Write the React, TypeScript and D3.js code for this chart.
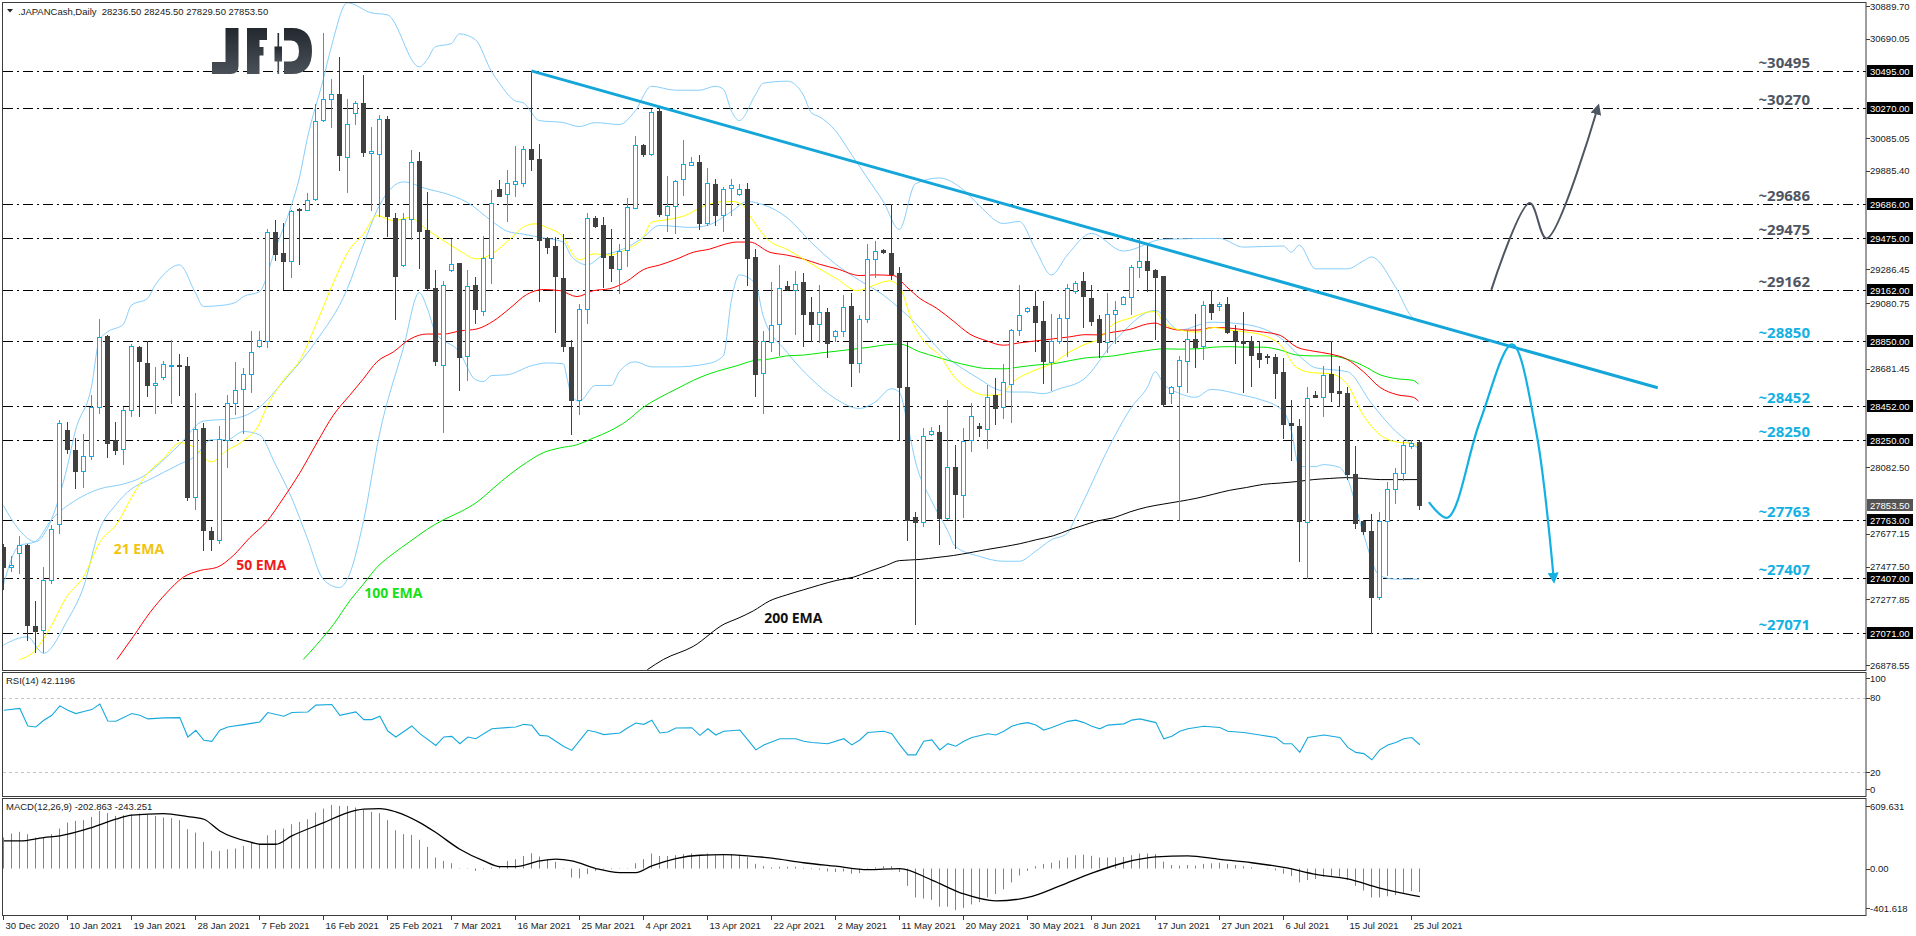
import * as d3 from 'd3'
import { useEffect, useRef } from 'react'

const WIDTH = 1916
const HEIGHT = 936
const AXIS_X = 1866

// daily OHLC, 30 Dec 2020 .. 26 Jul 2021
const opens = [
  27598, 27478, 27562, 27610, 27117, 27093, 27398, 27738, 28310, 28188, 28062, 28151, 28447, 28880, 28248, 28195,
  28431, 28816, 28717, 28580, 28633, 28698, 28705, 28700, 27901, 28322, 27694, 27641, 28248, 28476, 28560, 28650,
  28820, 28852, 29513, 29386, 29338, 29655, 29650, 29713, 30197, 30324, 30353, 29973, 30240, 30300, 29995, 29987,
  30199, 29602, 29314, 29595, 29946, 29525, 29174, 28705, 29282, 29326, 28760, 29189, 29032, 29357, 29776, 29747,
  29807, 29812, 30019, 29958, 29477, 29427, 29237, 28816, 28491, 29044, 29602, 29554, 29367, 29290, 29403, 29662,
  30043, 29987, 30252, 29619, 29675, 29838, 29922, 29939, 29571, 29807, 29619, 29783, 29747, 29778, 29362, 28657,
  28844, 28953, 29186, 29162, 29210, 29025, 28953, 29030, 28880, 28912, 29061, 28717, 28984, 29350, 29405, 29386,
  29265, 28573, 27781, 27750, 28286, 28296, 27774, 28086, 27913, 28250, 28334, 28315, 28520, 28447, 28587, 28917,
  29034, 29066, 28972, 28724, 28852, 28989, 29152, 29217, 29114, 28982, 28844, 29018, 29078, 29121, 29302, 29338,
  29282, 29249, 28536, 28575, 28731, 28864, 28820, 29078, 29066, 29078, 28912, 28852, 28852, 28777, 28758, 28753,
  28664, 28349, 28334, 27750, 28520, 28508, 28652, 28549, 28532, 28043, 27755, 27694, 27293, 27755, 27947, 28046,
  28214, 28236.5,
]
const highs = [
  27617, 27545, 27666, 27615, 27269, 27478, 27730, 28370, 28356, 28260, 28286, 28520, 28982, 28885, 28358, 28447,
  28832, 28820, 28852, 28693, 28731, 28856, 28772, 28755, 28536, 28351, 27721, 28332, 28524, 28724, 28688, 28909,
  28912, 29535, 29590, 29566, 29650, 29662, 29752, 30295, 30726, 30444, 30577, 30324, 30312, 30469, 30151, 30228,
  30223, 29631, 29631, 30016, 30004, 29759, 29285, 29213, 29470, 29326, 29285, 29241, 29489, 29771, 29831, 29891,
  30035, 30040, 30495, 30052, 29482, 29482, 29499, 28856, 29078, 29631, 29614, 29607, 29535, 29441, 29723, 30096,
  30047, 30264, 30269, 29855, 29831, 30076, 29968, 29982, 29903, 29836, 29790, 29836, 29807, 29814, 29410, 28909,
  29210, 29314, 29217, 29278, 29265, 29116, 29193, 29054, 28917, 29128, 29140, 29008, 29439, 29458, 29410, 29687,
  29302, 28844, 27810, 28322, 28327, 28339, 28491, 28219, 28322, 28476, 28351, 28585, 28623, 28712, 28921, 29193,
  29056, 29157, 29092, 29018, 29018, 29198, 29217, 29270, 29193, 29008, 29145, 29092, 29126, 29314, 29477, 29434,
  29290, 29249, 28575, 28760, 28909, 29013, 29092, 29162, 29085, 29116, 28946, 29025, 28880, 28852, 28772, 28772,
  28748, 28491, 28375, 28573, 28544, 28700, 28852, 28700, 28573, 28212, 27762, 27798, 27810, 27990, 28079, 28248,
  28248, 28245.5,
]
const lows = [
  27341, 27449, 27437, 27028, 26956, 26956, 27377, 27682, 28171, 27954, 27961, 28135, 28411, 28147, 28163, 28103,
  28394, 28394, 28515, 28411, 28621, 28472, 28524, 27882, 27827, 27581, 27581, 27622, 28086, 28404, 28291, 28539,
  28813, 28813, 29343, 29169, 29241, 29318, 29646, 29708, 30189, 30156, 29891, 29759, 30173, 29975, 29650, 29614,
  29489, 28984, 29309, 29470, 29297, 29169, 28705, 28296, 29278, 28551, 28611, 28960, 29008, 29205, 29732, 29583,
  29735, 29795, 29891, 29092, 29386, 28905, 28792, 28286, 28404, 28958, 29547, 29181, 29213, 29145, 29306, 29658,
  29975, 29982, 29614, 29518, 29506, 29739, 29920, 29530, 29554, 29554, 29518, 29619, 29742, 29189, 28515, 28411,
  28789, 28767, 29164, 28892, 28820, 28852, 28844, 28753, 28852, 28880, 28575, 28664, 28965, 29241, 29386, 29225,
  28248, 27641, 27129, 27726, 28279, 27617, 27769, 27593, 27779, 28183, 28272, 28202, 28346, 28382, 28356, 28885,
  29030, 28789, 28597, 28551, 28837, 28760, 29145, 28936, 28948, 28753, 28784, 28840, 29073, 29018, 29241, 29157,
  28864, 28452, 28476, 27762, 28539, 28695, 28743, 28984, 29042, 28897, 28717, 28539, 28575, 28693, 28719, 28503,
  28260, 28127, 27514, 27406, 28508, 28394, 28484, 28452, 28010, 27714, 27678, 27071, 27281, 27425, 27865, 28002,
  28200, 27829.5,
]
const closes = [
  27478, 27485, 27610, 27124, 27086, 27398, 27706, 28351, 28192, 28062, 28151, 28447, 28876, 28231, 28188, 28431,
  28820, 28731, 28585, 28597, 28712, 28705, 28698, 27901, 28315, 27699, 27646, 28255, 28476, 28553, 28650, 28784,
  28856, 29513, 29379, 29338, 29643, 29650, 29708, 30189, 30324, 30353, 29982, 30173, 30300, 29999, 30007, 30204,
  29610, 29246, 29595, 29939, 29518, 29176, 28729, 29193, 29318, 28753, 29186, 29044, 29355, 29691, 29735, 29812,
  29826, 30019, 29958, 29465, 29422, 29246, 28820, 28491, 29044, 29598, 29549, 29362, 29294, 29398, 29667, 30043,
  29987, 30245, 29622, 29675, 29826, 29927, 29939, 29571, 29812, 29619, 29776, 29800, 29776, 29357, 28652, 28852,
  28948, 29176, 29169, 29200, 29018, 28953, 29025, 28837, 28912, 29056, 28719, 28984, 29350, 29398, 29391, 29261,
  28573, 27762, 27750, 28272, 28303, 27774, 28086, 27918, 28243, 28394, 28322, 28512, 28443, 28604, 28917, 29008,
  29054, 28965, 28731, 28852, 28989, 29174, 29205, 29126, 28972, 28844, 29018, 29042, 29121, 29302, 29338, 29282,
  29241, 28467, 28568, 28736, 28864, 28813, 29068, 29030, 29078, 28905, 28852, 28837, 28767, 28741, 28753, 28657,
  28346, 28342, 27757, 28503, 28512, 28645, 28539, 28536, 28043, 27745, 27697, 27293, 27755, 27947, 28046, 28219,
  28231, 27853.5,
]

// moving averages, [bar, price]
const ema21 = [
  [2, 26912], [3.75, 26956], [5.8, 27100], [7.9, 27293], [10, 27413], [12.1, 27629], [14.2, 27738], [16.25, 27918],
  [17.9, 28038], [20, 28135], [22.1, 28231], [23.75, 28207], [26, 28115], [27.9, 28183], [30, 28243], [32, 28346],
  [32.9, 28447], [35, 28611], [37.1, 28736], [39.2, 28965], [41.25, 29205], [43.3, 29410], [45, 29500], [46.7, 29614],
  [48.75, 29583], [50.8, 29602], [52.9, 29530], [55, 29463], [57.1, 29398], [59.2, 29350], [61.25, 29386], [63.3, 29470],
  [65.4, 29554], [66.5, 29564], [67.9, 29542], [70, 29482], [71.25, 29374], [72.1, 29345], [73.75, 29381], [75.8, 29374],
  [77.9, 29410], [80, 29482], [81, 29573], [83.1, 29590], [85.2, 29614], [87.5, 29670], [90, 29699], [91.25, 29699],
  [92.5, 29675], [93.3, 29614], [95.8, 29458], [97.9, 29410], [100, 29350], [102, 29290], [104.2, 29229], [106.7, 29157],
  [108.3, 29181], [110.8, 29217], [112, 29181], [113.75, 28953], [115.4, 28832], [117.1, 28760], [118.75, 28640],
  [120.8, 28555], [122.9, 28520], [124.6, 28524], [126.25, 28604], [128.75, 28669], [131.25, 28717], [133.3, 28784],
  [135.5, 28836], [136.7, 28856], [138.75, 28953], [140.8, 28989], [142.9, 29025], [144, 29030], [145, 28965],
  [147.1, 28917], [149.2, 28905], [151.25, 28933], [153.3, 28917], [155.4, 28905], [157.5, 28885], [159.6, 28828],
  [161.7, 28688], [163.75, 28657], [165.8, 28652], [167.9, 28592], [170, 28399], [172.1, 28279], [174.2, 28236],
  [176.25, 28226], [176.9, 28207],
]
const ema50 = [
  [14.2, 26912], [16.25, 27052], [18.3, 27196], [20.4, 27317], [22.5, 27413], [24.6, 27454], [26.7, 27473], [28.75, 27545],
  [30.8, 27653], [32.9, 27750], [35, 27894], [37.1, 28051], [39.2, 28231], [41.25, 28399], [43.3, 28520], [45, 28620],
  [46.7, 28724], [48.75, 28784], [50.8, 28861], [52.9, 28893], [55, 28893], [57.1, 28912], [59.2, 28924], [61.25, 28972],
  [63.3, 29049], [65.4, 29133], [67.5, 29164], [69.6, 29157], [71.7, 29121], [73.75, 29157], [75.8, 29169], [77.9, 29213],
  [80, 29285], [82.1, 29314], [84.2, 29350], [86.25, 29391], [88.3, 29410], [90.2, 29440], [91.7, 29453], [93.3, 29453],
  [95.8, 29391], [97.9, 29374], [100, 29350], [102, 29318], [104.2, 29290], [107.1, 29249], [108.75, 29253], [111.25, 29249],
  [112.9, 29181], [114.6, 29109], [116.7, 29049], [118.75, 28972], [120.8, 28893], [122.9, 28852], [125, 28825],
  [127.1, 28840], [129.2, 28852], [131.25, 28864], [133.3, 28876], [135.2, 28889], [136.7, 28888], [138.75, 28905],
  [140.8, 28921], [142.9, 28953], [144, 28960], [145, 28941], [147.1, 28917], [149.2, 28917], [151.25, 28933],
  [153.3, 28929], [155.4, 28917], [157.5, 28905], [159.6, 28885], [161.7, 28813], [163.75, 28789], [165.8, 28772],
  [167.9, 28741], [170, 28664], [172.1, 28568], [174.2, 28524], [176.25, 28508], [176.9, 28484],
]
const ema100 = [
  [37.5, 26912], [39.2, 27004], [41.25, 27124], [43.3, 27269], [45, 27370], [46.7, 27473], [48.75, 27557], [50.8, 27629],
  [52.9, 27702], [55, 27762], [57.1, 27810], [59.2, 27870], [61.25, 27954], [63.3, 28038], [65.4, 28111], [67.5, 28171],
  [69.6, 28200], [71.7, 28219], [73.75, 28260], [75.8, 28303], [77.9, 28363], [80, 28447], [82.1, 28508], [84.2, 28560],
  [86.25, 28611], [88.3, 28652], [90.2, 28680], [91.7, 28700], [93.75, 28731], [95.8, 28741], [97.9, 28760], [100, 28765],
  [102, 28777], [104.2, 28789], [106.25, 28801], [108.3, 28813], [110.4, 28828], [112, 28832], [114.6, 28784],
  [116.7, 28753], [118.75, 28724], [120.8, 28700], [122.9, 28683], [125, 28681], [127.1, 28693], [129.2, 28705],
  [131.25, 28712], [133.3, 28731], [135.2, 28747], [138.75, 28760], [140.8, 28777], [142.9, 28792], [145, 28803],
  [147.1, 28801], [149.2, 28803], [151.25, 28813], [153.3, 28816], [155.4, 28813], [157.5, 28813], [159.6, 28796],
  [161.7, 28765], [163.75, 28760], [165.8, 28760], [167.9, 28741], [170, 28700], [172.1, 28645], [174.2, 28621],
  [176.25, 28611], [176.9, 28587],
]
const ema200 = [
  [80.5, 26850], [82.5, 26912], [86.25, 26992], [90.2, 27130], [91.7, 27160], [93.75, 27208], [95.8, 27269], [97.9, 27305],
  [100, 27336], [102, 27365], [104.2, 27394], [106.25, 27413], [108.3, 27449], [110.4, 27485], [112, 27514], [114.6, 27521],
  [116.7, 27533], [118.75, 27545], [120.8, 27562], [122.9, 27581], [125, 27598], [127.1, 27617], [129.2, 27642],
  [131.25, 27665], [133.3, 27702], [135.2, 27732], [136.7, 27755], [138.75, 27774], [140.8, 27810], [142.9, 27839],
  [145, 27858], [147.1, 27875], [149.2, 27894], [151.25, 27918], [153.3, 27942], [155.4, 27959], [157.5, 27978],
  [159.6, 27986], [161.7, 27995], [163.75, 28007], [165.8, 28014], [167.9, 28019], [170, 28014], [172.1, 28007],
  [174.2, 28007], [176.9, 28007],
]

// Bollinger bands (20, 2), [bar, price]
const bbUpper = [
  [0, 27850], [2, 27700], [4, 27629], [6, 27762], [8, 28087], [9, 28303], [11, 28568], [12, 28856], [13, 28905],
  [15, 28953], [16, 29068], [18, 29109], [19, 29193], [20, 29253], [22, 29314], [24, 29145], [25, 29061], [27, 29066],
  [29, 29085], [30, 29121], [32, 29150], [34, 29410], [36, 29675], [37, 29843], [38, 30084], [40, 30445], [41, 30641],
  [43, 30909], [46, 30848], [48, 30836], [52, 30519], [53, 30565], [54, 30642], [56, 30661], [57, 30720], [59, 30685],
  [61, 30493], [62, 30420], [64, 30312], [65, 30300], [67, 30192], [70, 30180], [72, 30156], [74, 30180], [77, 30168],
  [79, 30252], [81, 30401], [84, 30377], [87, 30377], [89, 30401], [90, 30384], [91, 30252], [92, 30192], [94, 30348],
  [95, 30420], [98, 30432], [100, 30348], [101, 30240], [102, 30216], [104, 30132], [106, 29987], [108, 29843],
  [110, 29699], [112, 29530], [114, 29807], [117, 29843], [120, 29771], [122, 29675], [125, 29566], [127, 29578],
  [129, 29410], [131, 29253], [133, 29374], [136, 29506], [140, 29398], [145, 29470], [152, 29475], [155, 29422],
  [160, 29429], [161, 29391], [162, 29434], [164, 29290], [168, 29290], [170, 29338], [171, 29362], [174, 29181],
  [176, 29001], [177, 28965],
]
const bbMiddle = [
  [0, 27365], [2, 27605], [4, 27629], [6, 27762], [9, 27880], [12, 27950], [15, 27980], [17, 28014], [22, 28219],
  [25, 28363], [29, 28380], [32, 28447], [35, 28604], [39, 28844], [43, 29169], [45, 29434], [47, 29675], [50, 29819],
  [53, 29776], [55, 29752], [58, 29694], [61, 29583], [63, 29518], [65, 29501], [67, 29482], [70, 29453], [71, 29367],
  [73, 29314], [75, 29374], [76, 29386], [78, 29422], [80, 29482], [82, 29554], [86, 29542], [88, 29554], [91, 29638],
  [93, 29700], [95, 29680], [98, 29600], [101, 29450], [104, 29320], [107, 29220], [110, 29130], [112, 29050],
  [114, 28960], [116, 28850], [118, 28750], [120, 28680], [122, 28620], [124, 28560], [126, 28540], [128, 28540],
  [130, 28530], [132, 28560], [135, 28616], [139, 28856], [144, 29037], [147, 28917], [151, 28965], [155, 28953],
  [160, 28856], [162, 28760], [164, 28688], [168, 28664], [171, 28472], [174, 28303], [177, 28195],
]
const bbLower = [
  [0, 27000], [3, 27050], [5, 26950], [8, 27150], [10, 27350], [12, 27700], [14, 27850], [16, 27950], [18, 28000],
  [20, 28050], [22, 28100], [24, 28150], [26, 28250], [28, 28250], [30, 28300], [32, 28280], [34, 28100], [36, 27900],
  [38, 27650], [40, 27400], [42, 27350], [43, 27400], [45, 27750], [47, 28279], [50, 28808], [52, 29145], [53, 29049],
  [54, 28905], [57, 28784], [59, 28616], [60, 28604], [61, 28640], [63, 28645], [66, 28700], [68, 28717], [70, 28712],
  [70.5, 28616], [71, 28520], [72, 28484], [74, 28580], [76, 28580], [77, 28664], [79, 28724], [81, 28693], [84, 28693],
  [88, 28712], [90, 28760], [91, 29097], [92, 29253], [94, 29200], [95, 29000], [98, 28780], [101, 28620], [104, 28500],
  [107, 28440], [109, 28480], [111, 28560], [112, 28540], [113, 28350], [114, 28120], [116, 27880], [118, 27700],
  [119, 27600], [122, 27540], [125, 27510], [127, 27510], [129, 27570], [131, 27640], [133, 27680], [134, 27774],
  [139, 28279], [141, 28447], [143, 28568], [144, 28664], [145, 28592], [147, 28532], [149, 28508], [151, 28556],
  [155, 28520], [157, 28496], [160, 28424], [161, 28303], [162, 28086], [164, 28086], [165, 28098], [167, 28082],
  [168, 28014], [170, 27678], [172, 27425], [174, 27401], [177, 27401],
]

// RSI(14), [bar, value]
const rsi = [
  [0, 70], [2, 71.4], [3, 57.3], [4, 56.5], [5, 61.9], [6, 65.9], [7, 73.5], [8, 70], [9, 67.3], [10, 69], [11, 70.5],
  [12, 74.9], [13, 61.3], [14, 61.1], [16, 67.3], [17, 66], [18, 63], [20, 63.8], [22, 64], [23, 48.4], [24, 53.8],
  [25, 45.7], [26, 44.9], [27, 53.8], [28, 56.5], [30, 58.4], [32, 60.5], [33, 68.1], [35, 65.1], [36, 68.1], [38, 68.6],
  [39, 74.1], [41, 74.6], [42, 65.9], [44, 68.6], [45, 62.4], [46, 62.4], [47, 65.1], [48, 53.2], [49, 48.4], [51, 57.3],
  [52, 51.1], [54, 41.6], [55, 48.4], [56, 48.9], [57, 43], [58, 48.4], [59, 47], [61, 55.1], [64, 56.5], [65, 58.6],
  [66, 57.8], [67, 49.7], [68, 49.2], [70, 40.8], [71, 37.6], [73, 53.8], [74, 52.4], [75, 50.3], [77, 51.6], [78, 55.9],
  [79, 59.7], [80, 58.6], [81, 61.9], [82, 51.6], [83, 52.4], [84, 55.7], [86, 55.9], [87, 49.7], [88, 55], [89, 50],
  [90, 53], [92, 54], [93, 46], [94, 38], [95, 42], [97, 47], [99, 47], [100, 45], [101, 44], [103, 43], [105, 47],
  [106, 42], [107, 46], [108, 52], [110, 53], [111, 51], [112, 42], [113, 34], [114, 34], [115, 45], [116, 46], [117, 38],
  [118, 43], [119, 41], [120, 45], [121, 48], [123, 51], [124, 50], [125, 53], [126, 57], [127, 59], [128, 60], [129, 58],
  [130, 54], [131, 56], [133, 61], [134, 62], [135, 60], [136, 57], [137, 55], [138, 58], [140, 59], [141, 62], [142, 63],
  [144, 60], [145, 47], [146, 49], [147, 53], [148, 55], [150, 57], [152, 56], [153, 53], [155, 52], [157, 50], [159, 48],
  [160, 43], [161, 43], [162, 36], [163, 48], [165, 50], [167, 48], [168, 40], [169, 36], [170, 35], [171, 30], [172, 38],
  [173, 42], [174, 44], [175, 47], [176, 48], [177, 42.1196],
]

// MACD(12,26,9): main value per bar, signal line as [bar, value]
const macdMain = [
  268, 302, 317, 297, 268, 268, 297, 346, 397, 412, 418, 446, 498, 478, 455, 461, 469, 475, 469, 455, 441, 435, 418, 340,
  311, 230, 153, 153, 167, 173, 196, 225, 210, 288, 334, 346, 383, 403, 426, 484, 518, 550, 541, 541, 527, 507, 490, 478,
  418, 331, 297, 291, 248, 187, 95, 66, 46, 3, 3, -20, -6, 9, 23, 66, 81, 109, 132, 104, 81, 58, 3, -78, -84, -49, -20,
  -6, -6, 3, 3, 46, 81, 130, 109, 109, 115, 124, 130, 110, 130, 115, 120, 125, 120, 100, 40, 20, 10, 15, 15, 15, 5, -5,
  -10, -25, -30, -25, -45, -40, -10, 10, 20, 20, -30, -150, -250, -260, -270, -330, -330, -360, -340, -310, -290, -250,
  -220, -180, -120, -60, -20, 20, 40, 50, 70, 95, 115, 120, 110, 95, 95, 95, 100, 115, 130, 130, 125, 60, 30, 25, 30, 25,
  40, 45, 50, 40, 30, 20, 10, 0, -5, -15, -45, -65, -120, -100, -90, -70, -70, -70, -100, -150, -190, -250, -250, -240,
  -230, -210, -195, -202.863,
]
const macdSignal = [
  [0, 239], [2, 239], [5, 268], [7, 282], [11, 354], [14, 426], [16, 461], [20, 475], [23, 449], [25, 426], [27, 325],
  [31, 225], [32, 210], [34, 210], [36, 282], [40, 397], [43, 484], [45, 513], [47, 518], [49, 490], [52, 397], [54, 311],
  [57, 167], [60, 66], [62, 17], [64, 17], [67, 66], [69, 81], [71, 66], [74, 0], [77, -35], [79, -35], [81, 23], [84, 86],
  [87, 115], [90, 120], [93, 110], [96, 90], [100, 50], [104, 20], [108, -10], [112, 0], [116, -100], [120, -220],
  [124, -280], [128, -250], [132, -150], [136, -40], [140, 50], [144, 100], [148, 110], [152, 80], [156, 50], [160, 10],
  [164, -50], [168, -90], [172, -170], [176, -230], [177, -243.251],
]

const dateLabels = [
  '30 Dec 2020', '10 Jan 2021', '19 Jan 2021', '28 Jan 2021', '7 Feb 2021', '16 Feb 2021', '25 Feb 2021', '7 Mar 2021',
  '16 Mar 2021', '25 Mar 2021', '4 Apr 2021', '13 Apr 2021', '22 Apr 2021', '2 May 2021', '11 May 2021', '20 May 2021',
  '30 May 2021', '8 Jun 2021', '17 Jun 2021', '27 Jun 2021', '6 Jul 2021', '15 Jul 2021', '25 Jul 2021',
]
const priceTicks = [
  30889.7, 30690.05, 30490.4, 30290.75, 30085.05, 29885.4, 29685.75, 29486.1, 29286.45, 29080.75, 28881.1, 28681.45,
  28481.8, 28282.15, 28082.5, 27882.85, 27677.15, 27477.5, 27277.85, 27078.2, 26878.55,
]
const levels = [30495, 30270, 29686, 29475, 29162, 28850, 28452, 28250, 27763, 27407, 27071]
const rsiTicks = [100, 80, 20, 0]
const macdTicks = [609.631, 0, -401.618]

// resistance line and the two scenario paths, [bar, price]
const trendLine = [[66, 30495], [206.8, 28566]]
const bullPath = [[186, 29162], [190.8, 29690], [192.9, 29475], [199.3, 30270]]
const bearPath = [[178.2, 27870], [180.5, 27775], [184.5, 28350], [188.6, 28830], [191.6, 28300], [193.8, 27400]]

const emaTags = [
  { text: '21 EMA', bar: 13.8, price: 27552, color: '#f2c40f' },
  { text: '50 EMA', bar: 29.1, price: 27455, color: '#ee1c1c' },
  { text: '100 EMA', bar: 45.1, price: 27284, color: '#17e017' },
  { text: '200 EMA', bar: 95.1, price: 27132, color: '#111111' },
]

const COL = {
  bull: '#17a9dd',
  bear: '#404040',
  band: '#87cefa',
  ema21: '#ffff00',
  ema50: '#ff0000',
  ema100: '#00e600',
  ema200: '#000000',
  trend: '#14a6d8',
  gray: '#4f5663',
  cyan: '#13b1e3',
  text: '#1a1a1a',
  frame: '#3c3c3c',
}

const FONT = '"Liberation Sans", Arial, sans-serif'
const BOLD = '"Open Sans", "Liberation Sans", sans-serif'

export default function App() {
  const ref = useRef<SVGSVGElement | null>(null)

  useEffect(() => {
    const svgEl = ref.current
    if (!svgEl) return
    const svg = d3.select(svgEl)
    svg.selectAll('*').remove()

    const x = d3.scaleLinear().domain([0, 100]).range([3.33, 803.33])
    const y = d3.scaleLinear().domain([26878.55, 30889.7]).range([665, 6])
    const yRsi = d3.scaleLinear().domain([0, 100]).range([797, 673])
    const yMacd = d3.scaleLinear().domain([-401.618, 609.631]).range([915, 798])

    const panels = [
      { id: 'main', top: 2, bottom: 670 },
      { id: 'rsi', top: 672, bottom: 796 },
      { id: 'macd', top: 798, bottom: 915 },
    ]

    const defs = svg.append('defs')
    panels.forEach((p) => {
      defs
        .append('clipPath')
        .attr('id', `clip-${p.id}`)
        .append('rect')
        .attr('x', 3)
        .attr('y', p.top + 1)
        .attr('width', AXIS_X - 3)
        .attr('height', p.bottom - p.top - 1)
    })
    const grad = defs.append('linearGradient').attr('id', 'logoGrad').attr('x1', 0).attr('y1', 0).attr('x2', 0).attr('y2', 1)
    grad.append('stop').attr('offset', '0%').attr('stop-color', '#23282f')
    grad.append('stop').attr('offset', '100%').attr('stop-color', '#4b5159')
    const addHead = (id: string, color: string) =>
      defs
        .append('marker')
        .attr('id', id)
        .attr('viewBox', '0 0 10 10')
        .attr('refX', 6)
        .attr('refY', 5)
        .attr('markerWidth', 11)
        .attr('markerHeight', 11)
        .attr('markerUnits', 'userSpaceOnUse')
        .attr('orient', 'auto')
        .append('path')
        .attr('d', 'M0,0 L10,5 L0,10 Z')
        .attr('fill', color)
    addHead('headGray', COL.gray)
    addHead('headCyan', COL.cyan)

    svg.append('rect').attr('width', WIDTH).attr('height', HEIGHT).attr('fill', '#fff')

    const main = svg.append('g').attr('clip-path', 'url(#clip-main)')

    // horizontal support / resistance levels
    levels.forEach((lv) => {
      const yy = Math.round(y(lv)) + 0.5
      main
        .append('line')
        .attr('x1', 3)
        .attr('x2', AXIS_X)
        .attr('y1', yy)
        .attr('y2', yy)
        .attr('stroke', '#000')
        .attr('stroke-width', 1)
        .attr('stroke-dasharray', '10,4,2,4')
    })

    const priceLine = d3
      .line<number[]>()
      .x((d) => x(d[0]))
      .y((d) => y(d[1]))
      .curve(d3.curveMonotoneX)

    const drawSeries = (data: number[][], color: string, width = 1) =>
      main
        .append('path')
        .attr('d', priceLine(data))
        .attr('fill', 'none')
        .attr('stroke', color)
        .attr('stroke-width', width)

    drawSeries(bbUpper, COL.band)
    drawSeries(bbMiddle, COL.band)
    drawSeries(bbLower, COL.band)
    drawSeries(ema200, COL.ema200)
    drawSeries(ema100, COL.ema100)
    drawSeries(ema50, COL.ema50)
    drawSeries(ema21, COL.ema21)

    // candles
    const gCandles = main.append('g')
    opens.forEach((o, i) => {
      const c = closes[i]
      const cx = Math.round(x(i))
      const up = c >= o
      const col = up ? COL.bull : COL.bear
      gCandles
        .append('line')
        .attr('x1', cx + 0.5)
        .attr('x2', cx + 0.5)
        .attr('y1', Math.round(y(highs[i])))
        .attr('y2', Math.round(y(lows[i])) + 1)
        .attr('stroke', col)
      const top = Math.round(y(Math.max(o, c)))
      const bot = Math.round(y(Math.min(o, c)))
      if (bot - top < 1) {
        gCandles
          .append('line')
          .attr('x1', cx - 2)
          .attr('x2', cx + 3)
          .attr('y1', top + 0.5)
          .attr('y2', top + 0.5)
          .attr('stroke', col)
      } else if (up) {
        gCandles
          .append('rect')
          .attr('x', cx - 1.5)
          .attr('y', top + 0.5)
          .attr('width', 4)
          .attr('height', bot - top)
          .attr('fill', '#fff')
          .attr('stroke', col)
      } else {
        gCandles
          .append('rect')
          .attr('x', cx - 2)
          .attr('y', top)
          .attr('width', 5)
          .attr('height', bot - top + 1)
          .attr('fill', col)
      }
    })

    // descending resistance
    main
      .append('line')
      .attr('x1', x(trendLine[0][0]))
      .attr('y1', y(trendLine[0][1]))
      .attr('x2', x(trendLine[1][0]))
      .attr('y2', y(trendLine[1][1]))
      .attr('stroke', COL.trend)
      .attr('stroke-width', 3)

    const scenario = d3
      .line<number[]>()
      .x((d) => x(d[0]))
      .y((d) => y(d[1]))
      .curve(d3.curveCatmullRom.alpha(0.5))
    main
      .append('path')
      .attr('d', scenario(bullPath))
      .attr('fill', 'none')
      .attr('stroke', COL.gray)
      .attr('stroke-width', 2)
      .attr('marker-end', 'url(#headGray)')
    main
      .append('path')
      .attr('d', scenario(bearPath))
      .attr('fill', 'none')
      .attr('stroke', COL.cyan)
      .attr('stroke-width', 2.2)
      .attr('marker-end', 'url(#headCyan)')

    // EMA captions
    emaTags.forEach((t) => {
      main
        .append('text')
        .attr('x', x(t.bar))
        .attr('y', y(t.price))
        .attr('fill', t.color)
        .attr('font-family', BOLD)
        .attr('font-weight', 700)
        .attr('font-size', 14)
        .text(t.text)
    })

    // level captions
    levels.forEach((lv, i) => {
      main
        .append('text')
        .attr('x', 1810)
        .attr('y', Math.round(y(lv)) - 3)
        .attr('text-anchor', 'end')
        .attr('fill', i < 5 ? COL.gray : COL.cyan)
        .attr('font-family', BOLD)
        .attr('font-weight', 700)
        .attr('font-size', 15)
        .text(`~${lv}`)
    })

    // JFD logo
    const logo = svg.append('g').attr('fill', 'url(#logoGrad)')
    logo.append('path').attr('d', 'M225.5 28 H238.5 V66 Q238.5 74 230.5 74 H212 V62 H225.5 Z')
    logo.append('path').attr('d', 'M247 28 H267 V40 H259.5 V47 H263.5 V55.5 H259.5 V74 H247 Z')
    logo.append('rect').attr('x', 277.5).attr('y', 33).attr('width', 1.6).attr('height', 41)
    logo.append('rect').attr('x', 274.5).attr('y', 46.5).attr('width', 7.5).attr('height', 15)
    logo
      .append('path')
      .attr('d', 'M284 28 H292 Q312 28 312 51 Q312 74 292 74 H284 V61.5 H291 Q299 61.5 299 51 Q299 40.5 291 40.5 H284 Z')

    // header
    svg.append('path').attr('d', 'M7 9 H13 L10 12.5 Z').attr('fill', '#222')
    svg
      .append('text')
      .attr('x', 18)
      .attr('y', 14.5)
      .attr('font-family', FONT)
      .attr('font-size', 9.5)
      .attr('fill', COL.text)
      .style('white-space', 'pre')
      .text('.JAPANCash,Daily  28236.50 28245.50 27829.50 27853.50')

    // RSI panel
    const gRsi = svg.append('g').attr('clip-path', 'url(#clip-rsi)')
    ;[80, 20].forEach((v) => {
      gRsi
        .append('line')
        .attr('x1', 3)
        .attr('x2', AXIS_X)
        .attr('y1', Math.round(yRsi(v)) + 0.5)
        .attr('y2', Math.round(yRsi(v)) + 0.5)
        .attr('stroke', '#c4c4c4')
        .attr('stroke-dasharray', '3,3')
    })
    gRsi
      .append('path')
      .attr(
        'd',
        d3
          .line<number[]>()
          .x((d) => x(d[0]) + 0.5)
          .y((d) => yRsi(d[1]))(rsi),
      )
      .attr('fill', 'none')
      .attr('stroke', COL.bull)
      .attr('stroke-width', 1.1)
    svg
      .append('text')
      .attr('x', 6)
      .attr('y', 684)
      .attr('font-family', FONT)
      .attr('font-size', 9.5)
      .attr('fill', COL.text)
      .text('RSI(14) 42.1196')

    // MACD panel
    const gMacd = svg.append('g').attr('clip-path', 'url(#clip-macd)')
    macdMain.forEach((v, i) => {
      const cx = Math.round(x(i)) + 0.5
      gMacd
        .append('line')
        .attr('x1', cx)
        .attr('x2', cx)
        .attr('y1', yMacd(0))
        .attr('y2', yMacd(v))
        .attr('stroke', COL.bull)
        .attr('stroke-width', 1)
    })
    gMacd
      .append('path')
      .attr(
        'd',
        d3
          .line<number[]>()
          .x((d) => x(d[0]) + 0.5)
          .y((d) => yMacd(d[1]))
          .curve(d3.curveMonotoneX)(macdSignal),
      )
      .attr('fill', 'none')
      .attr('stroke', '#000')
      .attr('stroke-width', 1.3)
    svg
      .append('text')
      .attr('x', 6)
      .attr('y', 810)
      .attr('font-family', FONT)
      .attr('font-size', 9.5)
      .attr('fill', COL.text)
      .text('MACD(12,26,9) -202.863 -243.251')

    // frames and right axis
    panels.forEach((p) => {
      svg
        .append('rect')
        .attr('x', 2.5)
        .attr('y', p.top + 0.5)
        .attr('width', AXIS_X - 2.5)
        .attr('height', p.bottom - p.top)
        .attr('fill', 'none')
        .attr('stroke', COL.frame)
    })

    const axisLabel = (yy: number, label: string) => {
      svg
        .append('line')
        .attr('x1', AXIS_X)
        .attr('x2', AXIS_X + 4)
        .attr('y1', Math.round(yy) + 0.5)
        .attr('y2', Math.round(yy) + 0.5)
        .attr('stroke', COL.frame)
      svg
        .append('text')
        .attr('x', AXIS_X + 4)
        .attr('y', yy + 3.5)
        .attr('font-family', FONT)
        .attr('font-size', 9.5)
        .attr('fill', COL.text)
        .text(label)
    }
    const boxed = [...levels, closes[closes.length - 1]]
    priceTicks
      .filter((v) => boxed.every((b) => Math.abs(y(v) - y(b)) > 11))
      .forEach((v) => axisLabel(y(v), v.toFixed(2)))
    rsiTicks.forEach((v) => axisLabel(Math.max(678, Math.min(789, yRsi(v))), String(v)))
    macdTicks.forEach((v) =>
      axisLabel(Math.max(806, Math.min(908, yMacd(v))), v === 0 ? '0.00' : v.toFixed(3)),
    )

    const priceBox = (v: number, fill: string) => {
      const yy = Math.round(y(v))
      svg.append('rect').attr('x', AXIS_X + 1).attr('y', yy - 6).attr('width', 46).attr('height', 12).attr('fill', fill)
      svg
        .append('text')
        .attr('x', AXIS_X + 4)
        .attr('y', yy + 3.5)
        .attr('font-family', FONT)
        .attr('font-size', 9.5)
        .attr('fill', '#fff')
        .text(v.toFixed(2))
    }
    levels.forEach((lv) => priceBox(lv, '#000'))
    priceBox(closes[closes.length - 1], '#555')

    // time axis
    dateLabels.forEach((lab, k) => {
      const tx = Math.round(x(k * 8)) + 0.5
      svg
        .append('line')
        .attr('x1', tx)
        .attr('x2', tx)
        .attr('y1', 915)
        .attr('y2', 920)
        .attr('stroke', COL.frame)
      svg
        .append('text')
        .attr('x', tx + 2)
        .attr('y', 929)
        .attr('font-family', FONT)
        .attr('font-size', 9.5)
        .attr('fill', COL.text)
        .text(lab)
    })
  }, [])

  return (
    <svg
      ref={ref}
      width={WIDTH}
      height={HEIGHT}
      style={{ position: 'absolute', left: 0, top: 0, display: 'block', background: '#fff' }}
    />
  )
}
